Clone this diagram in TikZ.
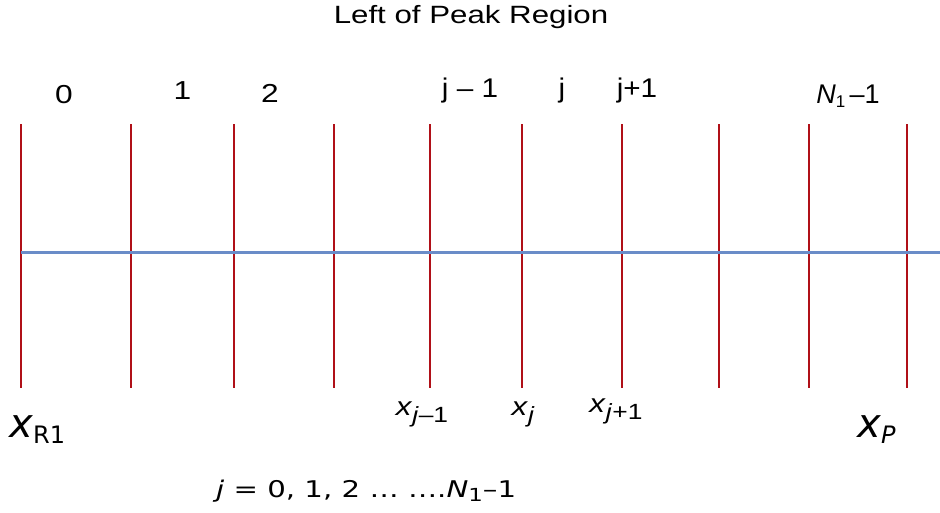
\documentclass[tikz,border=0pt]{standalone}
\usepackage{fontspec}
\setmainfont{Liberation Sans}
\newfontfamily\dvs{DejaVu Sans}
\definecolor{gridred}{RGB}{176,16,24}
\definecolor{axisblue}{RGB}{106,140,200}
\newcommand{\sx}[2]{\scalebox{#1}[1]{#2}}
\begin{document}
\begin{tikzpicture}[x=1pt,y=-1pt,
  grid/.style={draw=gridred,line width=1.7pt},
  axis/.style={draw=axisblue,line width=3pt},
  lab/.style={inner sep=0pt,anchor=base},
  toplab/.style={lab,font=\fontsize{26}{30}\selectfont},
  jlab/.style={lab,font=\fontsize{27}{30}\selectfont},
  botlab/.style={lab,font=\fontsize{26}{30}\selectfont},
  bigx/.style={inner sep=0pt,anchor=base west,font=\dvs\fontsize{40}{44}\selectfont}]
\useasboundingbox (0,0) rectangle (940,512);
\node[lab,font=\fontsize{25}{30}\selectfont] (title) at (471,23.5) {\sx{1.25}{Left of Peak Region}};
% vertical lines
\foreach \n/\x in {a/21,b/131,c/234,d/334,e/430,f/522,g/622,h/719,i/809,k/907}{
  \coordinate (\n t) at (\x,124);
  \coordinate (\n b) at (\x,388);
  \draw[grid] (\n t) -- (\n b);
}
\coordinate (axl) at (21,252);
\coordinate (axr) at (940,252);
\draw[axis] (axl) -- (axr);
% top labels
\node[toplab] (l0) at (64,103) {\sx{1.22}{0}};
\node[toplab] (l1) at (182.5,99) {\sx{1.22}{1}};
\node[toplab] (l2) at (270,102) {\sx{1.22}{2}};
\node[jlab] (ljm) at (470,97) {\sx{1.1}{j – 1}};
\node[jlab] (lj) at (562,97) {\sx{1.1}{j}};
\node[jlab] (ljp) at (637,97) {\sx{1.1}{j+1}};
\node[jlab] (lN) at (848,103) {\textit{N}\raisebox{-4pt}{\fontsize{17}{20}\selectfont 1}\,–1};
% bottom labels
\node[bigx] (xr) at (9,437) {\textit{x}\raisebox{-6pt}{\fontsize{24}{28}\selectfont R1}};
\node[botlab] (xjm) at (422,415) {\sx{1.2}{\textit{x}\raisebox{-7pt}{\fontsize{22}{26}\selectfont\textit{j}–1}}};
\node[botlab] (xj) at (523,415) {\sx{1.2}{\textit{x}\raisebox{-7pt}{\fontsize{22}{26}\selectfont\textit{j}}}};
\node[botlab] (xjp) at (616,412) {\sx{1.2}{\textit{x}\raisebox{-7pt}{\fontsize{22}{26}\selectfont\textit{j}+1}}};
\node[bigx] (xp) at (857,437) {\textit{x}\raisebox{-6pt}{\fontsize{24}{28}\selectfont\textit{P}}};
\node[inner sep=0pt,anchor=base west,font=\dvs\fontsize{23}{26}\selectfont] (jrange) at (216,497)
  {\sx{1.27}{\textit{j} = 0, 1, 2 … ….\textit{N}\raisebox{-4pt}{\fontsize{18}{20}\selectfont 1}–1}};
\end{tikzpicture}
\end{document}
